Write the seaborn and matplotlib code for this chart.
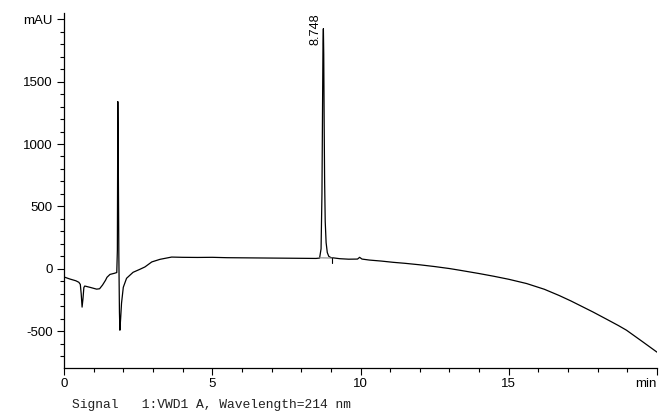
import matplotlib
matplotlib.use("Agg")
import matplotlib.pyplot as plt
from matplotlib.ticker import MultipleLocator, FixedLocator, FixedFormatter
import seaborn as sns
import pandas as pd

# Retention time (min) and detector signal (mAU)
time_min = [
    0.03, 0.2, 0.4, 0.5, 0.55, 0.58, 0.61, 0.64, 0.67, 0.7, 0.9, 1.1, 1.2, 1.3,
    1.4, 1.45, 1.55, 1.7, 1.78, 1.80, 1.815, 1.83, 1.85, 1.87, 1.885, 1.91, 1.94,
    2.0, 2.11, 2.33, 2.56, 2.73, 2.96, 3.24, 3.63, 4.0, 4.5, 5.0, 5.5, 6.0, 6.5,
    7.0, 7.5, 8.0, 8.5, 8.62, 8.67, 8.70, 8.72, 8.735, 8.748, 8.76, 8.775, 8.79,
    8.81, 8.84, 8.88, 8.93, 9.0, 9.3, 9.6, 9.9, 9.97, 10.05, 10.3, 10.7, 11.1,
    11.5, 12.0, 12.5, 13.0, 13.36, 14.0, 14.5, 15.0, 15.6, 16.2, 16.7, 17.1,
    17.84, 18.3, 18.7, 18.97, 19.5, 20.0,
]
signal_mau = [
    -68, -82, -96, -108, -125, -200, -307, -240, -150, -138, -150, -163, -160, -130,
    -92, -68, -45, -36, -30, 150, 1340, 900, 100, -350, -492, -400, -276,
    -148, -76, -28, -4, 15, 55, 76, 94, 92, 91, 92, 89, 88, 87,
    86, 85, 84, 83, 86, 160, 600, 1300, 1800, 1924, 1720, 1150, 700,
    380, 210, 130, 100, 90, 81, 77, 78, 92, 78, 70, 62, 52,
    44, 32, 18, 2, -12, -38, -60, -84, -118, -164, -214, -258,
    -346, -404, -455, -492, -582, -668,
]

# Integration baseline under the main peak
baseline_time = [8.62, 9.05]
baseline_mau = [88, 86]
baseline_tick_mau = [88, 45]

peak_rt = 8.748
peak_height = 1924

y_ticks = [-500, 0, 500, 1000, 1500, 2000]
y_labels = ["-500", "0", "500", "1000", "1500", "mAU"]
x_ticks = [0, 5, 10, 15, 20]
x_labels = ["0", "5", "10", "15", "min"]

sns.set_style("ticks")
plt.rcParams["font.family"] = ["Liberation Sans", "DejaVu Sans"]

fig = plt.figure(figsize=(6.6, 4.13), dpi=100)
ax = fig.add_axes([64 / 660, 45 / 413, 593 / 660, 355 / 413])

trace = pd.DataFrame({"time": time_min, "signal": signal_mau})
sns.lineplot(data=trace, x="time", y="signal", ax=ax, color="black",
             linewidth=0.9, estimator=None, sort=False)

ax.plot(baseline_time, baseline_mau, color="#888888", linewidth=0.8)
ax.plot([baseline_time[1]] * 2, baseline_tick_mau, color="black", linewidth=0.8)

ax.annotate(f"{peak_rt:.3f}", xy=(peak_rt, peak_height), xytext=(-1.5, -11.5),
            textcoords="offset points", rotation=90, ha="right", va="bottom",
            fontsize=9.2, color="black")

ax.set_xlim(0, 20)
ax.set_ylim(-795, 2050)
ax.xaxis.set_major_locator(FixedLocator(x_ticks))
ax.xaxis.set_major_formatter(FixedFormatter(x_labels))
ax.xaxis.set_minor_locator(MultipleLocator(1))
ax.yaxis.set_major_locator(FixedLocator(y_ticks))
ax.yaxis.set_major_formatter(FixedFormatter(y_labels))
ax.yaxis.set_minor_locator(MultipleLocator(100))

ax.tick_params(which="major", direction="out", length=5, width=0.8,
               labelsize=9.5, colors="black", pad=2)
ax.tick_params(which="minor", direction="out", length=3, width=0.8, colors="black")
ax.tick_params(axis="y", which="major", pad=3)
ax.set_xlabel("")
ax.set_ylabel("")
for side in ("top", "right"):
    ax.spines[side].set_visible(False)
for side in ("left", "bottom"):
    ax.spines[side].set_linewidth(0.9)
    ax.spines[side].set_color("black")

# The unit label sits flush with the right end of the time axis
fig.canvas.draw()
ax.get_xticklabels()[-1].set_horizontalalignment("right")

fig.text(72 / 660, 8 / 413, "Signal   1:VWD1 A, Wavelength=214 nm",
         family=["Liberation Mono", "DejaVu Sans Mono"], fontsize=9.4,
         color="#222222", ha="left", va="center")

fig.savefig("out.png", dpi=100, facecolor="white")
